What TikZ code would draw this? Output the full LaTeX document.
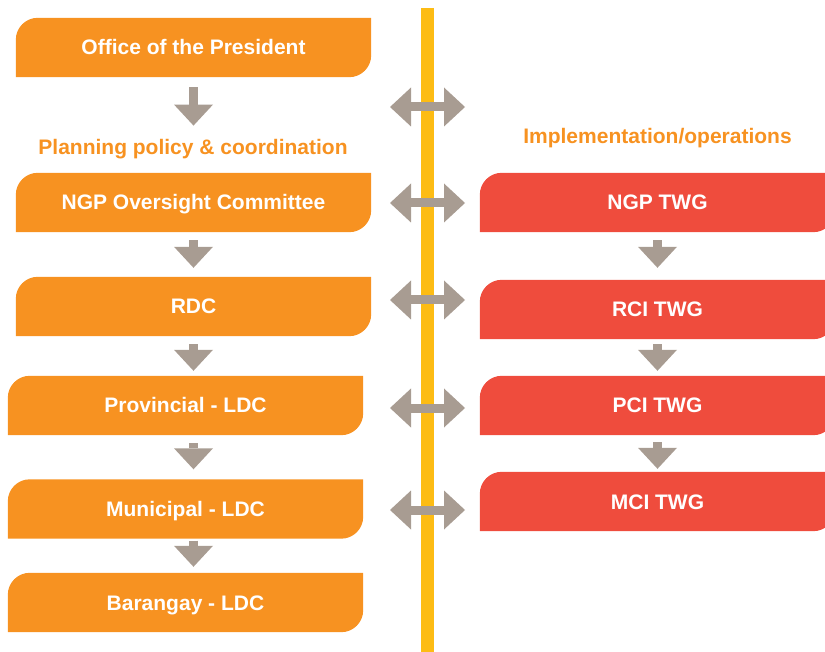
\documentclass[tikz,border=0pt]{standalone}
\usepackage{fontspec}
\setmainfont{Liberation Sans}
\usetikzlibrary{backgrounds,arrows.meta}

\definecolor{boxorange}{RGB}{247,146,33}
\definecolor{boxred}{RGB}{239,76,61}
\definecolor{arrowgrey}{RGB}{168,156,146}
\definecolor{spineyellow}{RGB}{253,188,20}

\begin{document}
\begin{tikzpicture}[x=1pt,y=-1pt]

    % `level' is used for every box (text only, the shape is filled below).
    % `flow' is the arrow from one level down to the next.
    % `link' is the double arrow across the middle line.
    \tikzstyle{level} = [minimum width=355pt,minimum height=59pt,inner sep=0pt,text=white,font=\fontsize{21}{25}\selectfont\bfseries,text height=15pt,text depth=0pt]
    \tikzstyle{heading} = [text=boxorange,anchor=base,inner sep=0pt,font=\fontsize{21}{25}\selectfont\bfseries]
    \tikzstyle{flow} = [draw=arrowgrey,line width=9pt,-{Triangle[width=39pt,length=21pt,line width=0pt]}]
    \tikzstyle{link} = [draw=arrowgrey,line width=9pt,{Triangle[width=39pt,length=21pt,line width=0pt]}-{Triangle[width=39pt,length=21pt,line width=0pt]}]
    %
    \useasboundingbox (0,0) rectangle (825,652);

    % Left column.
    \node[level] (op)   at (193.5,47.5)  {Office of the President};
    \node[heading] (plan) at (193,155)   {Planning policy \& coordination};
    \node[level] (noc)  at (193.5,202.5) {NGP Oversight Committee};
    \node[level] (rdc)  at (193.5,306.5) {RDC};
    \node[level] (prov) at (185.5,405.5) {Provincial - LDC};
    \node[level] (mun)  at (185.5,509)   {Municipal - LDC};
    \node[level] (bar)  at (185.5,602.5) {Barangay - LDC};

    % Right column.
    \node[heading] (impl) at (657.5,144) {Implementation/operations};
    \node[level] (ngp) at (657.5,202.5) {NGP TWG};
    \node[level] (rci) at (657.5,309.5) {RCI TWG};
    \node[level] (pci) at (657.5,405.5) {PCI TWG};
    \node[level] (mci) at (657.5,501.5) {MCI TWG};

    % Middle line.
    \coordinate (top) at (427.5,8);
    \coordinate (bot) at (427.5,652);

    % Down arrows.
    \draw[flow,shorten <=10pt,shorten >=14pt] (op.south) -- (op.south |- plan.north);
    \foreach \a/\b/\s/\e in {noc/rdc/8pt/9pt,rdc/prov/8pt/5pt,prov/mun/8pt/10pt,mun/bar/2pt/6pt}
        \draw[flow,shorten <=\s,shorten >=\e] (\a.south -| op.south) -- (\b.north -| op.south);
    \foreach \a/\b/\s/\e in {ngp/rci/8pt/12pt,rci/pci/5pt/5pt,pci/mci/7pt/3pt}
        \draw[flow,shorten <=\s,shorten >=\e] (\a.south -| ngp.south) -- (\b.north -| ngp.south);

    % Double arrows across.
    \foreach \y [count=\i] in {107,203,300,408,510} {
        \coordinate (w\i) at (390,\y);
        \coordinate (e\i) at (465,\y);
        \draw[link] (w\i) -- (e\i);
    }

    \begin{pgfonlayer}{background}
        % Draw line and boxes.
        \draw[spineyellow,line width=13pt] (top) -- (bot);
        \foreach \n/\c in {op/boxorange,noc/boxorange,rdc/boxorange,prov/boxorange,mun/boxorange,bar/boxorange,ngp/boxred,rci/boxred,pci/boxred,mci/boxred}
            \fill[\c] (\n.south west) -- ([yshift=-22pt]\n.north west)
                arc[start angle=180,end angle=90,radius=22pt] -- (\n.north east)
                -- ([yshift=22pt]\n.south east)
                arc[start angle=0,end angle=-90,radius=22pt] -- cycle;
    \end{pgfonlayer}
    %
\end{tikzpicture}
\end{document}
